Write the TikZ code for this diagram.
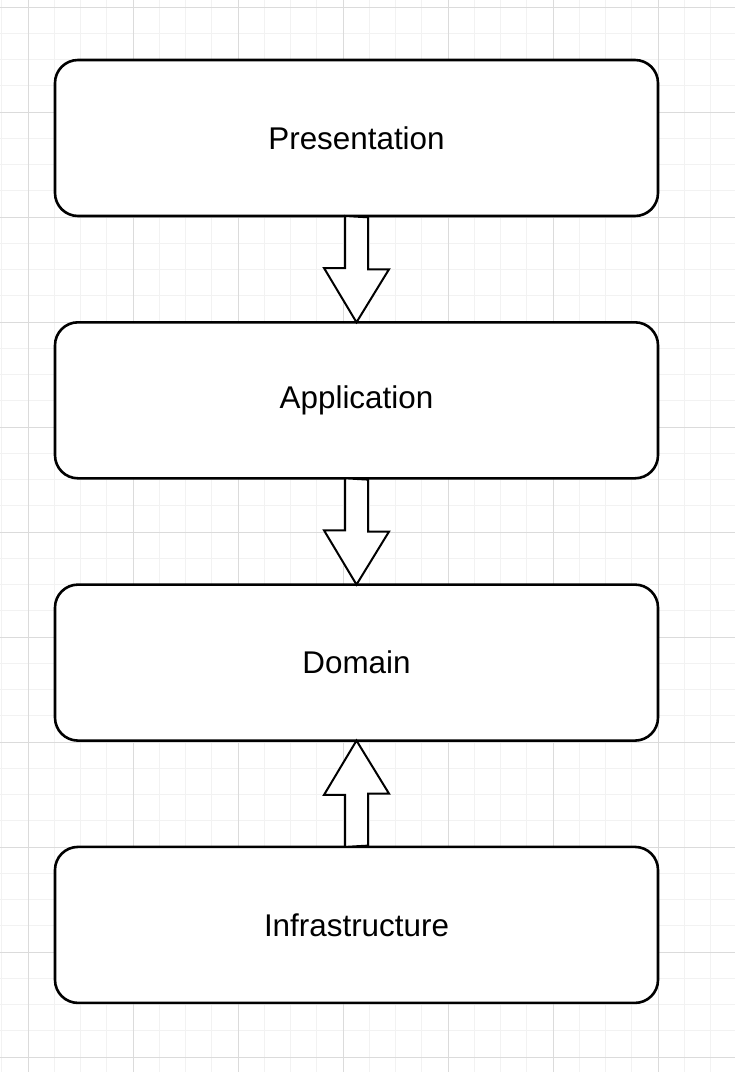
\documentclass[tikz,border=0pt]{standalone}
\usepackage{fontspec}
\setmainfont{Liberation Sans}
\usepackage{tikz}
\usetikzlibrary{calc, positioning}

\tikzset{
    layer/.style = {draw, line width=2.6pt, rounded corners=23pt, fill=white,
        minimum width=603pt, minimum height=156pt, outer sep=0pt,
        font=\fontsize{31.4}{37}\selectfont},
    blockarrow/.style = {draw, line width=2pt, fill=white, line join=miter},
    minorgrid/.style = {line width=1pt, color=black!5},
    majorgrid/.style = {line width=1pt, color=black!14}
}

\begin{document}
\begin{tikzpicture}[x=1pt, y=-1pt, node distance=106.3pt]
    % background grid
    \useasboundingbox [fill=white] (0,0) rectangle (735,1072);
    \foreach \i in {0,...,27}
        \draw [minorgrid] (1.75+26.25*\i,0) -- (1.75+26.25*\i,1072);
    \foreach \j in {0,...,40}
        \draw [minorgrid] (0,7+26.25*\j) -- (735,7+26.25*\j);
    \foreach \i in {0,...,6}
        \draw [majorgrid] (28+105*\i,0) -- (28+105*\i,1072);
    \foreach \j in {0,...,10}
        \draw [majorgrid] (0,7+105*\j) -- (735,7+105*\j);

    % layers
    \node (pres) [layer] at (356.5,138) {Presentation};
    \node (app) [layer, below = of pres] {Application};
    \node (dom) [layer, below = of app] {Domain};
    \node (infra) [layer, below = of dom] {Infrastructure};

    % dependencies
    \draw [blockarrow] (pres.south) ++(-11.5,0) -- ++(0,52) -- ++(-21,0)
        -- (app.north) -- ++(32.5,-53) -- ++(-21,0) -- ++(0,-52) -- cycle;
    \draw [blockarrow] (app.south) ++(-11.5,0) -- ++(0,52) -- ++(-21,0)
        -- (dom.north) -- ++(32.5,-53) -- ++(-21,0) -- ++(0,-52) -- cycle;
    \draw [blockarrow] (infra.north) ++(-11.5,0) -- ++(0,-52) -- ++(-21,0)
        -- (dom.south) -- ++(32.5,53) -- ++(-21,0) -- ++(0,52) -- cycle;
\end{tikzpicture}
\end{document}
